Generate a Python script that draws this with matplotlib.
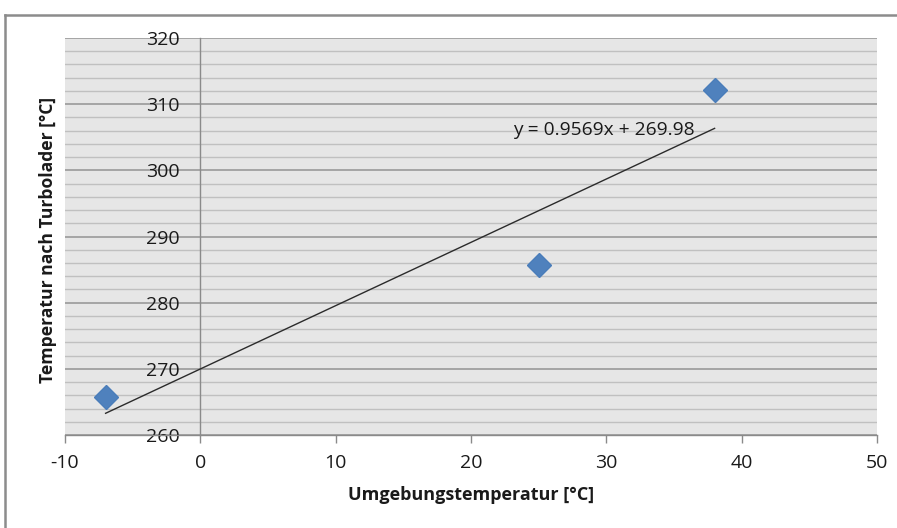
import matplotlib
matplotlib.use("Agg")
import matplotlib.pyplot as plt
from matplotlib.lines import Line2D
from matplotlib.ticker import MultipleLocator

# Messwerte
umgebung = [-7, 25, 38]             # Umgebungstemperatur [°C]
turbo = [265.7, 285.7, 312.2]       # Temperatur nach Turbolader [°C]

# Lineare Trendlinie (aus der Gleichung)
slope = 0.9569
intercept = 269.98
trend_x = [min(umgebung), max(umgebung)]

x_ticks = [-10, 0, 10, 20, 30, 40, 50]
y_ticks = [260, 270, 280, 290, 300, 310, 320]

plt.rcParams['font.family'] = ['Open Sans', 'DejaVu Sans']
plt.rcParams['axes.unicode_minus'] = False

W, H = 897, 528
fig = plt.figure(figsize=(W / 100, H / 100), dpi=100)
ax = fig.add_axes([65 / W, (H - 435) / H, (877 - 65) / W, (435 - 38) / H])

ax.set_facecolor('#E6E6E6')
ax.set_xlim(-10, 50)
ax.set_ylim(260, 320)

# Gitternetzlinien: Haupt alle 10, Neben alle 2
ax.yaxis.set_major_locator(MultipleLocator(10))
ax.yaxis.set_minor_locator(MultipleLocator(2))
ax.grid(axis='y', which='minor', color='#C0C0C0', linewidth=1.0)
ax.grid(axis='y', which='major', color='#9A9A9A', linewidth=1.2)
ax.set_axisbelow(True)

ax.set_xticks(x_ticks)
ax.set_yticks(y_ticks)

# Achsen wie in Excel: vertikale Achse schneidet bei x = 0
for s in ['top', 'right']:
    ax.spines[s].set_visible(False)
ax.spines['left'].set_position(('data', 0))
ax.spines['left'].set_color('#8A8A8A')
ax.spines['left'].set_linewidth(1.0)
ax.spines['left'].set_zorder(1.5)
ax.spines['bottom'].set_color('#8A8A8A')
ax.spines['bottom'].set_linewidth(1.0)

ax.tick_params(axis='y', which='both', length=0, pad=15, labelsize=14, labelcolor='#1A1A1A')
ax.tick_params(axis='x', which='major', length=6, width=1.0, color='#8A8A8A',
               pad=8, labelsize=14, labelcolor='#1A1A1A', direction='out')
ax.tick_params(axis='x', which='minor', length=0)

# Trendlinie
ax.plot(trend_x, [slope * x + intercept for x in trend_x],
        color='#2B2B2B', linewidth=1.0, zorder=3)
# Messpunkte
ax.plot(umgebung, turbo, linestyle='none', marker='D', markersize=12,
        color='#4F81BD', markeredgecolor='#4A7DBA', zorder=4)

ax.text(23.1, 306.1, f"y = {slope}x + {intercept}", fontsize=13.8,
        color='#1A1A1A', ha='left', va='center')

fig.text(471 / W, 1 - 495 / H, 'Umgebungstemperatur [°C]', fontsize=13,
         fontweight='bold', ha='center', va='center', color='#1A1A1A')
fig.text(48 / W, 1 - 240 / H, 'Temperatur nach Turbolader [°C]', fontsize=12.6,
         fontweight='bold', ha='center', va='center', rotation=90, color='#1A1A1A')

# Rahmen des Diagrammbereichs
fig.add_artist(Line2D([5 / W, 5 / W], [0, 1 - 15 / H], transform=fig.transFigure,
                      color='#8C8C8C', linewidth=1.8))
fig.add_artist(Line2D([5 / W, 1], [1 - 15 / H, 1 - 15 / H], transform=fig.transFigure,
                      color='#8C8C8C', linewidth=1.8))

fig.savefig('out.png', dpi=100, facecolor='white')
